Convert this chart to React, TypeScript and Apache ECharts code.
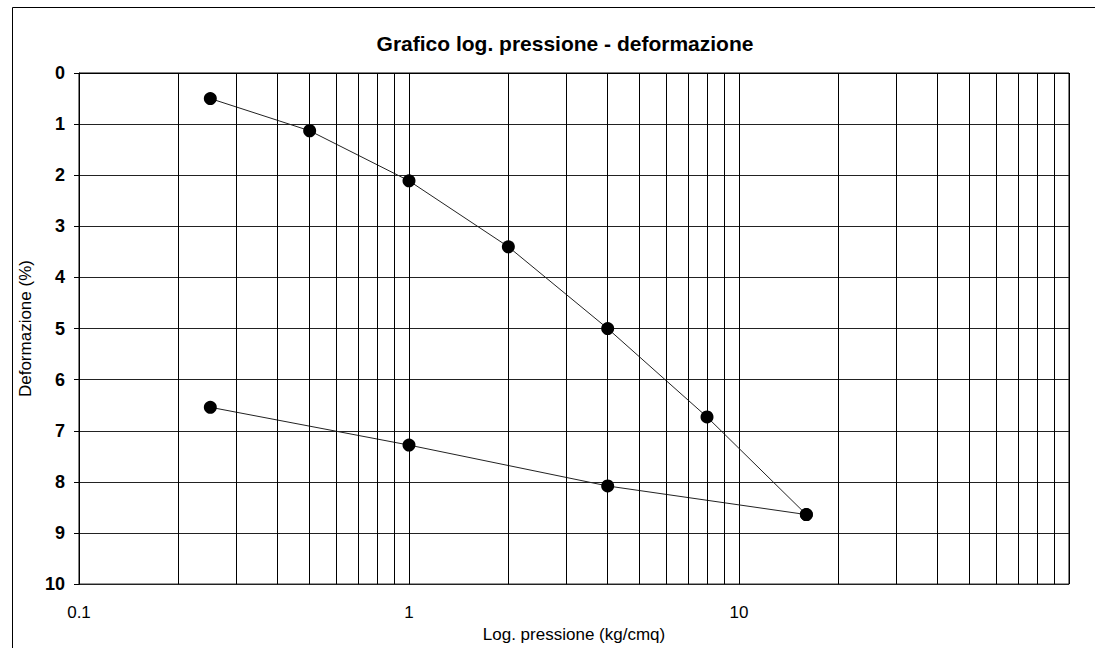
import React, { useEffect, useRef } from "react";
import * as echarts from "echarts";

const loadingPressure = [0.25, 0.5, 1, 2, 4, 8, 16];
const loadingStrain = [0.5, 1.13, 2.11, 3.4, 5.0, 6.73, 8.64];
const unloadingPressure = [16, 4, 1, 0.25];
const unloadingStrain = [8.64, 8.08, 7.28, 6.54];
const minorGridValues = [0.2, 0.3, 0.4, 0.5, 0.6, 0.7, 0.8, 0.9, 2, 3, 4, 5, 6, 7, 8, 9, 20, 30, 40, 50, 60, 70, 80, 90];
const title = "Grafico log. pressione - deformazione";
const xName = "Log. pressione (kg/cmq)";
const yName = "Deformazione (%)";

export default function App() {
  const ref = useRef<HTMLDivElement>(null);
  useEffect(() => {
    if (!ref.current) return;
    const chart = echarts.init(ref.current, null, { renderer: "svg" });
    const font = "Arial, 'Liberation Sans', sans-serif";
    chart.setOption({
      animation: false,
      backgroundColor: "#fff",
      title: {
        text: title,
        left: 560,
        top: 28,
        textAlign: "center",
        textStyle: { fontFamily: font, fontSize: 21, fontWeight: "bold", color: "#000" },
      },
      graphic: [
        {
          type: "rect",
          shape: { x: 12.5, y: 7.5, width: 1200, height: 800 },
          style: { fill: "none", stroke: "#000", lineWidth: 1 },
          silent: true,
        },
      ],
      grid: { left: 79, top: 73, width: 990, height: 514, show: true, borderColor: "#000", borderWidth: 1 },
      xAxis: {
        type: "log",
        logBase: 10,
        min: 0.1,
        max: 100,
        name: xName,
        nameLocation: "middle",
        nameGap: 32,
        nameTextStyle: { fontFamily: font, fontSize: 17, color: "#000" },
        axisLine: { show: true, lineStyle: { color: "#000", width: 1 } },
        axisTick: { show: true, length: 6, inside: false, lineStyle: { color: "#000" } },
        axisLabel: {
          fontFamily: font,
          fontSize: 17,
          color: "#000",
          margin: 20,
          formatter: (v: number) => (v >= 100 ? "" : String(Number(v.toPrecision(3)))),
        },
        splitLine: { show: true, lineStyle: { color: "#000", width: 1 } },
      },
      yAxis: {
        type: "value",
        inverse: true,
        min: 0,
        max: 10,
        interval: 1,
        name: yName,
        nameLocation: "middle",
        nameGap: 44,
        nameTextStyle: { fontFamily: font, fontSize: 17, color: "#000" },
        axisLine: { show: true, lineStyle: { color: "#000", width: 1 } },
        axisTick: { show: true, length: 5, lineStyle: { color: "#000" } },
        axisLabel: { fontFamily: font, fontSize: 18, fontWeight: "bold", color: "#000", margin: 14 },
        splitLine: { show: true, lineStyle: { color: "#222", width: 1 } },
      },
      series: [
        {
          type: "line",
          name: "carico",
          data: loadingPressure.map((p, i) => [p, loadingStrain[i]]),
          symbol: "circle",
          symbolSize: 13,
          itemStyle: { color: "#000" },
          lineStyle: { color: "#222", width: 1 },
          markLine: {
            silent: true,
            symbol: ["none", "none"],
            label: { show: false },
            lineStyle: { color: "#000", width: 1, type: "solid" },
            data: minorGridValues.map((v) => ({ xAxis: v })),
          },
          z: 3,
        },
        {
          type: "line",
          name: "scarico",
          data: unloadingPressure.map((p, i) => [p, unloadingStrain[i]]),
          symbol: "circle",
          symbolSize: 13,
          itemStyle: { color: "#000" },
          lineStyle: { color: "#222", width: 1 },
          z: 3,
        },
      ],
    });
    return () => chart.dispose();
  }, []);
  return (
    <div
      ref={ref}
      style={{ position: "absolute", left: 0, top: 0, width: 1095, height: 648 }}
    />
  );
}
